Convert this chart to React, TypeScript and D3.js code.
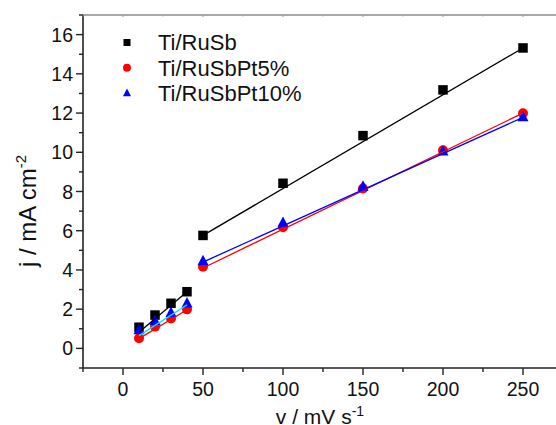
import React from 'react';
import * as d3 from 'd3';

// scan rate (mV/s)
const scanRates = [10, 20, 30, 40, 50, 100, 150, 200, 250];
const jRuSb = [1.08, 1.7, 2.3, 2.89, 5.76, 8.42, 10.85, 13.18, 15.32];
const jPt5 = [0.52, 1.11, 1.53, 1.99, 4.16, 6.18, 8.15, 10.1, 11.99];
const jPt10 = [0.94, 1.41, 1.82, 2.3, 4.45, 6.41, 8.25, 10.05, 11.8];

// linear fits, endpoints of each segment
const lowFitX = [10, 40];
const highFitX = [50, 250];
const lowFitRuSb = [0.82, 2.89];
const lowFitPt5 = [0.5, 1.97];
const lowFitPt10 = [0.65, 2.22];
const highFitRuSb = [5.76, 15.32];
const highFitPt5 = [4.1, 12.0];
const highFitPt10 = [4.4, 11.78];

const xMajor = [0, 50, 100, 150, 200, 250];
const xMinor = [-25, 25, 75, 125, 175, 225, 275];
const yMajor = [0, 2, 4, 6, 8, 10, 12, 14, 16];
const yMinor = [-1, 1, 3, 5, 7, 9, 11, 13, 15, 17];

const legendNames = ['Ti/RuSb', 'Ti/RuSbPt5%', 'Ti/RuSbPt10%'];

const W = 556;
const H = 425;
const margin = { top: 15, left: 83, bottom: 57 };
const axisColor = '#222';
const font = '"Liberation Sans", Arial, sans-serif';

const Marker = ({ shape, x, y, size, color }) => {
  if (shape === 'square') {
    return <rect x={x - size / 2} y={y - size / 2} width={size} height={size} fill={color} />;
  }
  if (shape === 'circle') {
    return <circle cx={x} cy={y} r={size / 2} fill={color} />;
  }
  const h = size * 0.95;
  const path = `M${x},${y - h * 0.6} L${x + size / 2},${y + h * 0.4} L${x - size / 2},${y + h * 0.4} Z`;
  return <path d={path} fill={color} />;
};

export default function App() {
  const x = d3.scaleLinear().domain([-25, 275]).range([margin.left, 563]);
  const y = d3.scaleLinear().domain([-1, 17]).range([H - margin.bottom, margin.top]);
  const y0 = H - margin.bottom;

  const series = [
    { name: legendNames[0], vals: jRuSb, shape: 'square', color: '#000', low: lowFitRuSb, high: highFitRuSb, lowColor: '#000', highColor: '#000', size: 9.5 },
    { name: legendNames[1], vals: jPt5, shape: 'circle', color: '#ff0000', low: lowFitPt5, high: highFitPt5, lowColor: '#ff0000', highColor: '#ff0000', size: 10 },
    { name: legendNames[2], vals: jPt10, shape: 'triangle', color: '#0000ff', low: lowFitPt10, high: highFitPt10, lowColor: '#00e5ff', highColor: '#0000ff', size: 11 },
  ];

  const line = d3
    .line()
    .x((d) => x(d[0]))
    .y((d) => y(d[1]));

  return (
    <svg width={W} height={H} style={{ position: 'absolute', left: 0, top: 0, background: '#fff' }}>
      {/* axes */}
      <line x1={margin.left} x2={W} y1={y0} y2={y0} stroke={axisColor} strokeWidth={1.6} />
      <line x1={margin.left} x2={W} y1={margin.top} y2={margin.top} stroke="#555" strokeWidth={1.2} />
      <line x1={margin.left} x2={margin.left} y1={margin.top} y2={y0} stroke={axisColor} strokeWidth={1.6} />

      {xMajor.map((v) => (
        <g key={'xm' + v}>
          <line x1={x(v)} x2={x(v)} y1={y0} y2={y0 + 7} stroke={axisColor} strokeWidth={1.4} />
          <line x1={x(v)} x2={x(v)} y1={margin.top} y2={margin.top + 2} stroke="#999" strokeWidth={1} />
          <text x={x(v)} y={396} textAnchor="middle" fontSize={19.5} fontFamily={font} fill="#111">
            {v}
          </text>
        </g>
      ))}
      {xMinor.map((v) => (
        <g key={'xn' + v}>
          <line x1={x(v)} x2={x(v)} y1={y0} y2={y0 + 4} stroke={axisColor} strokeWidth={1.4} />
          <line x1={x(v)} x2={x(v)} y1={margin.top} y2={margin.top + 1.5} stroke="#aaa" strokeWidth={1} />
        </g>
      ))}
      {yMajor.map((v) => (
        <g key={'ym' + v}>
          <line x1={margin.left - 7} x2={margin.left} y1={y(v)} y2={y(v)} stroke={axisColor} strokeWidth={1.4} />
          <text x={73} y={y(v)} dy="0.36em" textAnchor="end" fontSize={19.5} fontFamily={font} fill="#111">
            {v}
          </text>
        </g>
      ))}
      {yMinor.map((v) => (
        <line key={'yn' + v} x1={margin.left - 4} x2={margin.left} y1={y(v)} y2={y(v)} stroke={axisColor} strokeWidth={1.4} />
      ))}

      {/* axis titles */}
      <text x={320} y={424} textAnchor="middle" fontSize={21} fontFamily={font} fill="#111">
        v / mV s<tspan dy={-8} fontSize={14}>-1</tspan>
      </text>
      <text
        transform={`translate(36, 211) rotate(-90)`}
        textAnchor="middle"
        fontSize={24}
        fontFamily={font}
        fill="#111"
      >
        j / mA cm<tspan dy={-10} fontSize={15}>-2</tspan>
      </text>

      {/* markers */}
      {series.map((s) => (
        <g key={'pts' + s.name}>
          {s.vals.map((v, i) => (
            <Marker key={i} shape={s.shape} x={x(scanRates[i])} y={y(v)} size={s.size} color={s.color} />
          ))}
        </g>
      ))}

      {/* fit lines */}
      {series.map((s) => (
        <g key={'fit' + s.name}>
          <path d={line(lowFitX.map((xv, i) => [xv, s.low[i]]))} stroke={s.lowColor} strokeWidth={1.3} fill="none" />
          <path d={line(highFitX.map((xv, i) => [xv, s.high[i]]))} stroke={s.highColor} strokeWidth={1.3} fill="none" />
        </g>
      ))}

      {/* legend */}
      {series.map((s, i) => (
        <g key={'lg' + s.name}>
          <Marker shape={s.shape} x={127} y={42.5 + i * 25.3} size={s.shape === 'square' ? 7 : 8} color={s.color} />
          <text x={158} y={42.5 + i * 25.3} dy="0.36em" fontSize={22} fontFamily={font} fill="#111">
            {s.name}
          </text>
        </g>
      ))}
    </svg>
  );
}
